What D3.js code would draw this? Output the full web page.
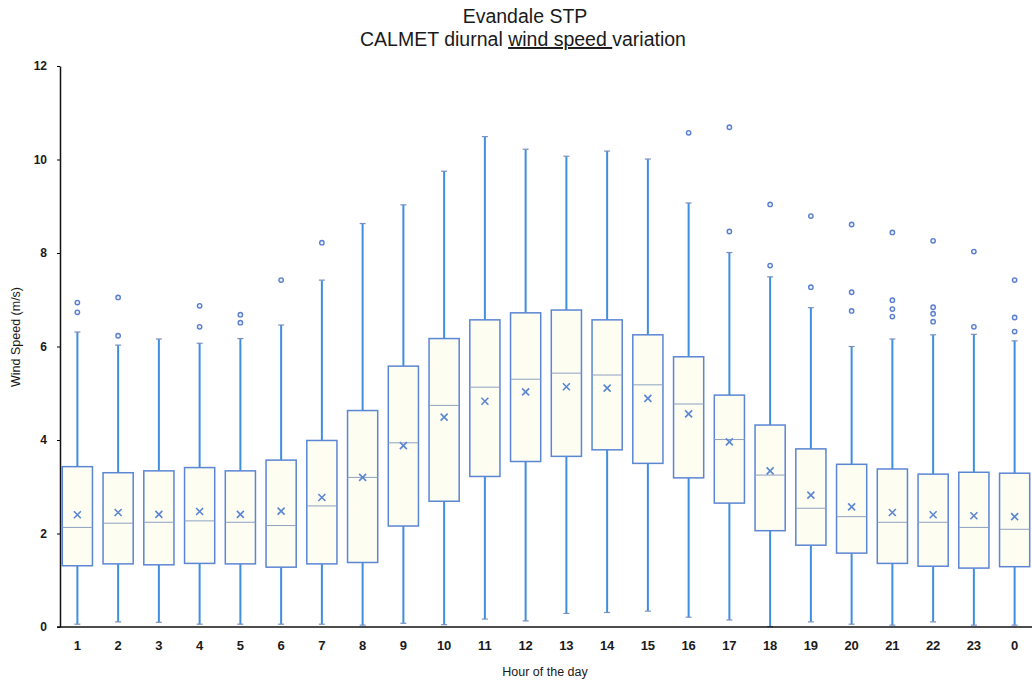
<!DOCTYPE html>
<html>
<head>
<meta charset="utf-8">
<script src="https://cdn.jsdelivr.net/npm/d3@7"></script>
<style>
  body { margin: 0; background: #fff; }
  text { font-family: "Liberation Sans", Arial, sans-serif; fill: #1a1a1a; }
</style>
</head>
<body>
<div id="chart"></div>
<script>
// hour labels, in the order they appear
var hours = ["1","2","3","4","5","6","7","8","9","10","11","12","13","14","15","16","17","18","19","20","21","22","23","0"];

// box plot stats (m/s)
var whiskerLow  = [0.06,0.11,0.10,0.06,0.06,0.06,0.06,0.04,0.08,0.05,0.17,0.13,0.29,0.31,0.34,0.21,0.15,0.01,0.11,0.06,0.04,0.11,0.04,0.04];
var q1          = [1.31,1.35,1.33,1.36,1.35,1.28,1.35,1.38,2.16,2.69,3.22,3.54,3.65,3.79,3.50,3.19,2.65,2.06,1.75,1.58,1.36,1.30,1.26,1.29];
var median      = [2.13,2.22,2.24,2.27,2.24,2.17,2.59,3.20,3.94,4.74,5.13,5.30,5.43,5.39,5.18,4.77,4.01,3.25,2.54,2.36,2.24,2.24,2.13,2.09];
var mean        = [2.40,2.45,2.41,2.47,2.41,2.48,2.77,3.20,3.88,4.49,4.83,5.03,5.14,5.11,4.89,4.56,3.96,3.34,2.82,2.57,2.45,2.40,2.38,2.36];
var q3          = [3.43,3.30,3.34,3.41,3.34,3.57,3.99,4.63,5.58,6.17,6.57,6.72,6.78,6.57,6.25,5.78,4.96,4.32,3.81,3.48,3.38,3.27,3.31,3.29];
var whiskerHigh = [6.31,6.03,6.16,6.07,6.17,6.46,7.42,8.63,9.03,9.75,10.49,10.22,10.07,10.18,10.01,9.07,8.01,7.49,6.83,6.00,6.16,6.25,6.26,6.12];
var outliers = [[6.94,6.73],[7.05,6.23],[],[6.87,6.42],[6.68,6.51],[7.42],[8.22],[],[],[],[],[],[],[],[],[10.57],
    [10.69,8.46],[9.04,7.73],[8.79,7.27],[8.61,7.16,6.76],[8.44,6.99,6.80,6.64],[8.26,6.84,6.70,6.53],[8.03,6.42],[7.42,6.62,6.32]];
var yTicks = [0,2,4,6,8,10,12];

var width = 1032, height = 684;
var boxStroke = "#5b86d4", whiskerColor = "#3f8fdc", boxFill = "#fdfdf2";

var svg = d3.select("#chart").append("svg")
    .attr("width", width)
    .attr("height", height);

var x = d3.scaleBand().domain(hours).range([57, 1035]).paddingInner(0.26).paddingOuter(0.13);
var y = d3.scaleLinear().domain([0, 12]).range([627, 66]);

var rows = hours.map(function(h, i) {
    return {h: h, lo: whiskerLow[i], q1: q1[i], med: median[i], mean: mean[i], q3: q3[i], hi: whiskerHigh[i], out: outliers[i]};
});

// titles
svg.append("text")
    .attr("x", 525).attr("y", 23)
    .attr("text-anchor", "middle")
    .attr("font-size", "19.5px")
    .text("Evandale STP");

var t2 = svg.append("text")
    .attr("x", 523).attr("y", 46)
    .attr("text-anchor", "middle")
    .attr("font-size", "19.5px");
t2.append("tspan").text("CALMET diurnal ");
t2.append("tspan").style("text-decoration", "underline").text("wind speed ");
t2.append("tspan").text("variation");

// boxes
var g = svg.append("g").selectAll("g")
    .data(rows)
    .enter().append("g")
    .attr("transform", function(d) { return "translate(" + (x(d.h) + x.bandwidth() / 2) + ",0)"; });

var bw = x.bandwidth();

// whiskers
g.append("line")
    .attr("x1", 0).attr("x2", 0)
    .attr("y1", function(d) { return y(d.q3); })
    .attr("y2", function(d) { return y(d.hi); })
    .attr("stroke", whiskerColor).attr("stroke-width", 2);
g.append("line")
    .attr("x1", 0).attr("x2", 0)
    .attr("y1", function(d) { return y(d.q1); })
    .attr("y2", function(d) { return y(d.lo); })
    .attr("stroke", whiskerColor).attr("stroke-width", 2);
// caps
["hi", "lo"].forEach(function(k) {
    g.append("line")
        .attr("x1", -3).attr("x2", 3)
        .attr("y1", function(d) { return y(d[k]); })
        .attr("y2", function(d) { return y(d[k]); })
        .attr("stroke", "#7a8fc0").attr("stroke-width", 1.2);
});

g.append("rect")
    .attr("x", -bw / 2)
    .attr("width", bw)
    .attr("y", function(d) { return y(d.q3); })
    .attr("height", function(d) { return y(d.q1) - y(d.q3); })
    .attr("fill", boxFill)
    .attr("stroke", boxStroke)
    .attr("stroke-width", 1.5);

g.append("line")
    .attr("x1", -bw / 2).attr("x2", bw / 2)
    .attr("y1", function(d) { return y(d.med); })
    .attr("y2", function(d) { return y(d.med); })
    .attr("stroke", "#8fa0c0").attr("stroke-width", 1);

// mean marker (x)
var m = 3.5;
g.append("path")
    .attr("d", function(d) {
        var c = y(d.mean);
        return "M" + (-m) + "," + (c - m) + "L" + m + "," + (c + m) + "M" + m + "," + (c - m) + "L" + (-m) + "," + (c + m);
    })
    .attr("stroke", "#5b86d4").attr("stroke-width", 1.6).attr("fill", "none");

g.selectAll("circle")
    .data(function(d) { return d.out; })
    .enter().append("circle")
    .attr("cx", 0)
    .attr("cy", function(v) { return y(v); })
    .attr("r", 2.2)
    .attr("fill", "#eef2fa")
    .attr("stroke", "#5b7fd0")
    .attr("stroke-width", 1.4);

// axes
var yAxis = svg.append("g")
    .attr("transform", "translate(60,0)")
    .call(d3.axisLeft(y).tickValues(yTicks).tickSize(3).tickPadding(10).tickSizeOuter(0));
yAxis.selectAll("text").attr("font-size", "12px").attr("font-weight", "bold")
    .attr("font-family", "Liberation Sans Narrow, Liberation Sans, sans-serif");

var xAxis = svg.append("g")
    .attr("transform", "translate(0,627)")
    .call(d3.axisBottom(x).tickSize(0).tickPadding(14));
xAxis.select(".domain").attr("d", "M57,0H1032").attr("stroke", "#111").attr("stroke-width", 1.5);
yAxis.select(".domain").attr("stroke", "#111").attr("stroke-width", 1.5);
xAxis.selectAll("text").attr("font-size", "13px").attr("font-weight", "bold")
    .attr("font-family", "Liberation Sans Narrow, Liberation Sans, sans-serif");

svg.append("text")
    .attr("transform", "translate(20,337) rotate(-90)")
    .attr("text-anchor", "middle")
    .attr("font-size", "12.5px")
    .text("Wind Speed (m/s)");

svg.append("text")
    .attr("x", 545).attr("y", 676)
    .attr("text-anchor", "middle")
    .attr("font-size", "12.5px")
    .text("Hour of the day");
</script>
</body>
</html>
